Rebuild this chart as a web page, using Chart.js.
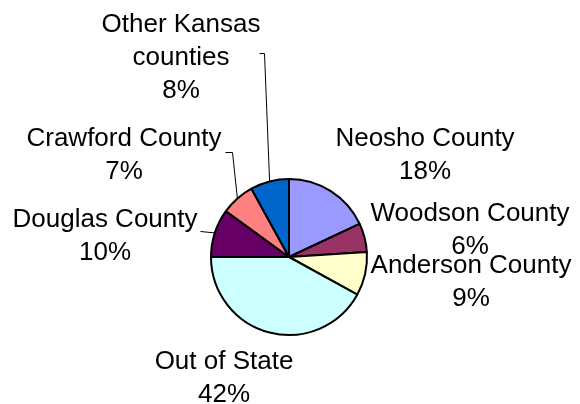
<!DOCTYPE html>
<html>
<head>
<meta charset="utf-8">
<script src="https://cdn.jsdelivr.net/npm/chart.js@4/dist/chart.umd.min.js"></script>
<style>
    html, body { margin: 0; padding: 0; background: #fff; }
    #wrap { width: 580px; height: 404px; }
</style>
</head>
<body>
<div id="wrap"><canvas id="origin-chart" width="580" height="404"></canvas></div>
<script>
const regions = ['Neosho County', 'Woodson County', 'Anderson County', 'Out of State', 'Douglas County', 'Crawford County', 'Other Kansas counties'];
const shares = [18, 6, 9, 42, 10, 7, 8];
const sliceColors = ['#9999FF', '#993366', '#FFFFCC', '#CCFFFF', '#660066', '#FF8080', '#0066CC'];

// label lines per slice (name may wrap), placed relative to the pie centre
const labelLines = [
    ['Neosho County'],
    ['Woodson County'],
    ['Anderson County'],
    ['Out of State'],
    ['Douglas County'],
    ['Crawford County'],
    ['Other Kansas', 'counties']
];
const labelSpots = [
    { dx: 136, dy: -111 },
    { dx: 181, dy: -36 },
    { dx: 182, dy: 16 },
    { dx: -65, dy: 112 },
    { dx: -184, dy: -30 },
    { dx: -165, dy: -111 },
    { dx: -108, dy: -225 }
];
// leader lines: points after the slice edge, relative to the centre
const leaders = [
    null, null, null, null,
    [{ dx: -89, dy: -26 }],
    [{ dx: -57, dy: -105 }, { dx: -64, dy: -105 }],
    [{ dx: -25, dy: -204 }, { dx: -30, dy: -204 }]
];

const sliceLabels = {
    id: 'sliceLabels',
    afterDatasetsDraw(chart) {
        const ctx = chart.ctx;
        const arcs = chart.getDatasetMeta(0).data;
        ctx.save();
        ctx.strokeStyle = '#000';
        ctx.lineWidth = 1;
        arcs.forEach((arc, i) => {
            const cx = arc.x, cy = arc.y;
            if (leaders[i]) {
                const mid = (arc.startAngle + arc.endAngle) / 2;
                ctx.beginPath();
                ctx.moveTo(cx + Math.cos(mid) * arc.outerRadius, cy + Math.sin(mid) * arc.outerRadius);
                leaders[i].forEach(p => ctx.lineTo(cx + p.dx + 0.5, cy + p.dy + 0.5));
                ctx.stroke();
            }
            const lines = labelLines[i].concat([shares[i] + '%']);
            ctx.fillStyle = '#000';
            ctx.font = '26px "Liberation Sans", Arial, sans-serif';
            ctx.textAlign = 'center';
            ctx.textBaseline = 'alphabetic';
            lines.forEach((t, k) => {
                ctx.fillText(t, cx + labelSpots[i].dx, cy + labelSpots[i].dy + k * 33);
            });
        });
        ctx.restore();
    }
};

new Chart(document.getElementById('origin-chart'), {
    type: 'pie',
    data: {
        labels: regions,
        datasets: [{
            data: shares,
            backgroundColor: sliceColors,
            borderColor: '#000',
            borderWidth: 2
        }]
    },
    options: {
        responsive: false,
        animation: false,
        radius: 78,
        layout: { padding: { left: 150, right: 152, top: 180, bottom: 70 } },
        plugins: {
            legend: { display: false },
            tooltip: { enabled: false }
        }
    },
    plugins: [sliceLabels]
});
</script>
</body>
</html>
